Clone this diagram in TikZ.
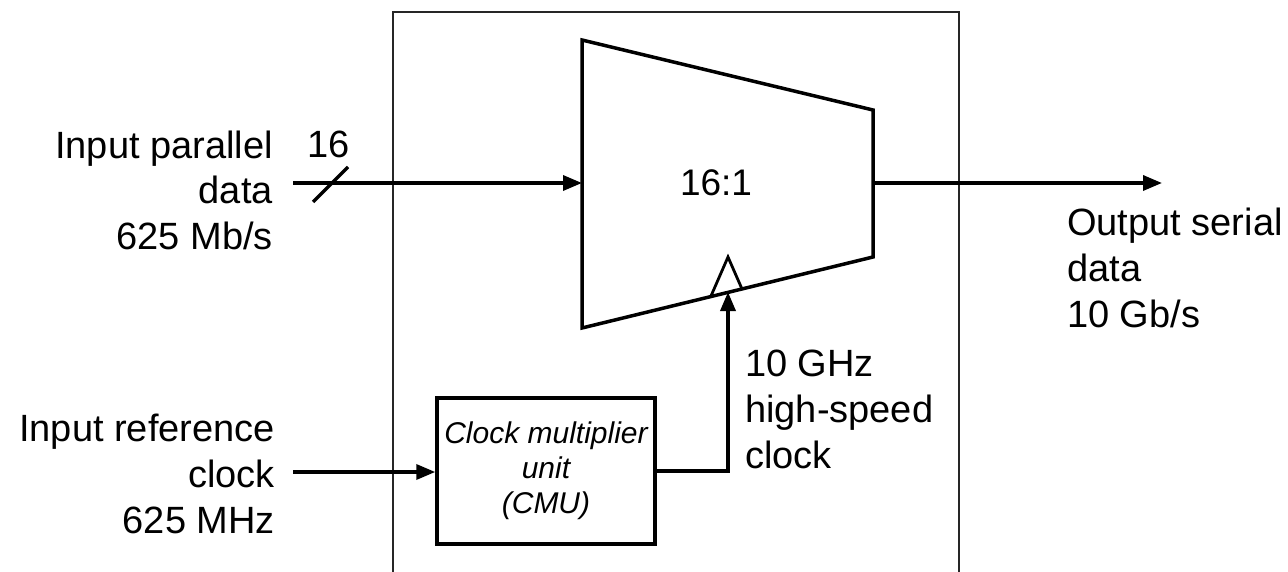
\documentclass[tikz,border=0pt]{standalone}
\usepackage{fontspec}
\setmainfont{Liberation Sans}
\usetikzlibrary{arrows.meta}
\tikzset{
  wire/.style={line width=3.5pt, -{Triangle[length=19pt,width=15pt]}},
  plain/.style={line width=3.5pt},
  lbl/.style={inner sep=0pt, font=\fontsize{38}{46}\selectfont},
  lblr/.style={lbl, align=right, anchor=base east},
  lbll/.style={lbl, align=left, anchor=base west},
}
\begin{document}
\begin{tikzpicture}[x=1pt,y=-1pt]
\useasboundingbox (0,0) rectangle (1288,572);
% outer chip boundary (open at the bottom)
\coordinate (ob1) at (393,572);
\coordinate (ob2) at (393,12);
\coordinate (ob3) at (959,12);
\coordinate (ob4) at (959,572);
\draw[line width=1.6pt, black!85] (ob1) -- (ob2) -- (ob3) -- (ob4);
% multiplexer trapezoid
\coordinate (tl) at (582,40);
\coordinate (tr) at (873,110);
\coordinate (br) at (873,257);
\coordinate (bl) at (582,328);
\draw[plain, line join=miter] (tl) -- (tr) -- (br) -- (bl) -- cycle;
\node[lbl, font=\fontsize{37}{44}\selectfont] (mux) at (716,183) {16:1};
% clock triangle
\coordinate (ck1) at (711,296);
\coordinate (ck2) at (728,257);
\coordinate (ck3) at (742,289);
\draw[line width=2.8pt, line join=miter] (ck1) -- (ck2) -- (ck3);
% CMU
\node[draw, line width=3.5pt, minimum width=218pt, minimum height=146pt, inner sep=0pt,
      align=center, font=\itshape\fontsize{30}{35}\selectfont] (cmu) at (546,471)
  {Clock multiplier\\unit\\(CMU)};
% input data
\coordinate (din) at (293,183);
\coordinate (dmux) at (582,183);
\draw[wire] (din) -- (dmux);
\coordinate (s1) at (313,202);
\coordinate (s2) at (348,167);
\draw[plain] (s1) -- (s2);
\node[lbl, anchor=base] (n16) at (329,158) {16};
% output data
\coordinate (dout0) at (873,183);
\coordinate (dout) at (1162,183);
\draw[wire] (dout0) -- (dout);
% reference clock in
\coordinate (cin) at (293,472);
\draw[wire] (cin) -- (cmu.west |- cin);
% high-speed clock
\coordinate (hc1) at (728,471);
\coordinate (hc2) at (728,292);
\draw[wire] (cmu.east |- hc1) -- (hc1) -- (hc2);
% labels (anchored at the baseline of their last line)
\node[lblr] (tin) at (273,250) {Input parallel\\data\\625 Mb/s};
\node[lblr] (tref) at (275,533) {Input reference\\clock\\625 MHz};
\node[lbll] (tout) at (1067,327) {Output serial\\data\\10 Gb/s};
\node[lbll] (thc) at (745,468) {10 GHz\\high-speed\\clock};
\end{tikzpicture}
\end{document}
